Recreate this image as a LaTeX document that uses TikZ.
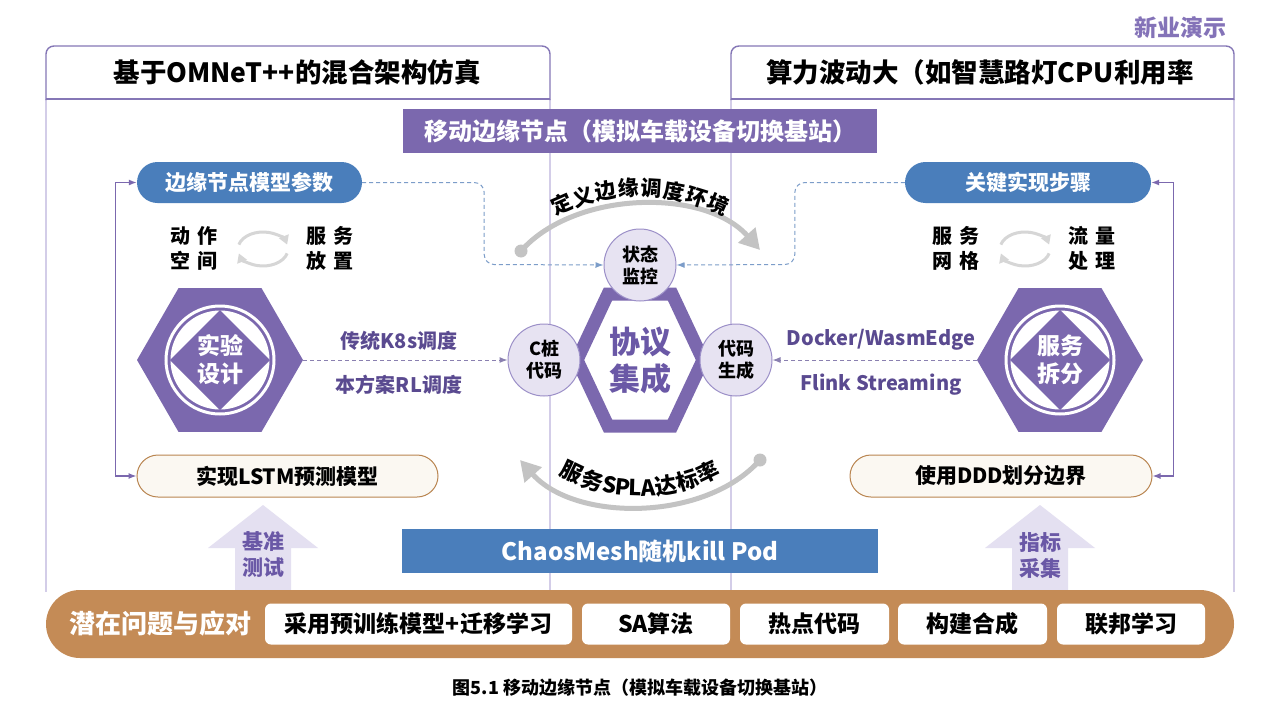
\documentclass[tikz,border=0pt]{standalone}
\usepackage{fontspec}
\setmainfont{Noto Sans CJK SC}
\usetikzlibrary{arrows.meta,calc,shapes.geometric}
\definecolor{mpurple}{HTML}{7B68AE}
\definecolor{dpurple}{HTML}{5A4A90}
\definecolor{tpurple}{HTML}{6A58A6}
\definecolor{brandc}{HTML}{8473B8}
\definecolor{mblue}{HTML}{4A7EBB}
\definecolor{dblue}{HTML}{7C9DC9}
\definecolor{pdashc}{HTML}{8A80B0}
\definecolor{brownc}{HTML}{C48B56}
\definecolor{lav}{HTML}{E4E0F1}
\definecolor{circfill}{HTML}{E7E3F2}
\definecolor{circborder}{HTML}{9C90C8}
\definecolor{panelc}{HTML}{8577B6}
\definecolor{panellight}{HTML}{D3CDE8}
\definecolor{grayarr}{HTML}{C3C3C3}
\definecolor{cycc}{HTML}{D6D6D6}
\definecolor{cream}{HTML}{FBF8F2}
\definecolor{pillborder}{HTML}{B98550}
\newcommand\fsz[2]{\fontsize{#1}{#2}\selectfont}
\tikzset{
  bluepill/.style={fill=mblue, text=white, rounded corners=20.5, minimum height=41, inner sep=0, font=\fsz{21}{24}\bfseries},
  creampill/.style={fill=cream, draw=pillborder, line width=1, rounded corners=21, minimum height=42, inner sep=0, font=\fsz{21}{24}\bfseries},
  circnode/.style={circle, fill=circfill, draw=circborder, line width=1, minimum size=72, inner sep=0, align=center, font=\fsz{18}{22}\bfseries},
  hexnode/.style={regular polygon, regular polygon sides=6, minimum size=166, fill=mpurple, inner sep=0, outer sep=0},
  hextext/.style={text=white, align=center, font=\fsz{23}{28}\bfseries},
  pairtxt/.style={align=center, font=\fsz{20}{25}\bfseries},
  labp/.style={text=dpurple, font=\fsz{20}{24}\bfseries},
  wbox/.style={fill=white, rounded corners=6, minimum height=41, inner sep=0, font=\fsz{23}{26}\bfseries},
  fb/.style={mpurple, line width=1.3, {Latex[length=8,width=6]}-{Latex[length=8,width=6]}},
  bdash/.style={dblue, line width=1, dash pattern=on 4pt off 3pt, rounded corners=10, -{Latex[length=8,width=6]}},
  pdash/.style={pdashc, line width=1, dash pattern=on 4pt off 3pt, -{Latex[length=8,width=6]}},
  garr/.style={grayarr, line width=5, -{Triangle[length=20,width=22]}},
  cyc/.style={cycc, line width=3, -{Triangle[length=9,width=10]}},
  uptxt/.style={text=tpurple, align=center, font=\fsz{21}{26}\bfseries},
  arctxt/.style={inner sep=0, anchor=base, font=\fsz{21}{21}\bfseries},
}
\newcommand\emblem[4]{%
  \node[hexnode] (#1) at (#2,#3) {};
  \draw[white, line width=3] (#1.center) circle[radius=54];
  \fill[white] (#1.center) circle[radius=49.5];
  \fill[mpurple] ($(#1.center)+(0,-50)$) -- ++(50,50) -- ++(-50,50) -- ++(-50,-50) -- cycle;
  \node[hextext] (#1t) at (#1.center) {#4};
}
\begin{document}
\begin{tikzpicture}[x=1pt,y=-1pt]
\useasboundingbox (0,0) rectangle (1280,720);
\fill[white] (0,0) rectangle (1280,720);
% panels
\draw[panellight, line width=1.2] (46,99) -- (46,592) (550,99) -- (550,592) (731,99) -- (731,592) (1234,99) -- (1234,592);
\draw[panelc, line width=1.4, rounded corners=8] (46,100) -- (46,46) -- (550,46) -- (550,100);
\draw[panelc, line width=1.4] (46,99) -- (550,99);
\draw[panelc, line width=1.4, rounded corners=8] (731,100) -- (731,46) -- (1234,46) -- (1234,100);
\draw[panelc, line width=1.4] (731,99) -- (1234,99);
\node[font=\fsz{26.5}{30}\bfseries] (lt) at (297,72) {基于OMNeT++的混合架构仿真};
\node[font=\fsz{26.5}{30}\bfseries] (rt) at (980,72) {算力波动大（如智慧路灯CPU利用率};
\node[text=brandc, font=\fsz{23}{26}\bfseries] (brand) at (1180,28) {新业演示};
% banner
\node[fill=mpurple, text=white, minimum width=474, minimum height=44, inner sep=0, font=\fsz{24}{27}\bfseries] (banner) at (640,131) {移动边缘节点（模拟车载设备切换基站）};
% blue pills
\node[bluepill, minimum width=225] (lp) at (249.5,182.5) {边缘节点模型参数};
\node[bluepill, minimum width=246] (rp) at (1028,182.5) {关键实现步骤};
% cream pills
\node[creampill, minimum width=301] (lbp) at (287.5,476) {实现LSTM预测模型};
\node[creampill, minimum width=302] (rbp) at (1001,476) {使用DDD划分边界};
% feedback lines
\draw[fb] (lp.west) -- ++(-21,0) |- (lbp.west);
\draw[fb] (rp.east) -- ++(22,0) |- (rbp.east);
% pair texts and cycles
\node[pairtxt] (aa) at (194,248) {动\hspace{7pt}作\\空\hspace{7pt}间};
\node[pairtxt] (ab) at (330,248) {服\hspace{7pt}务\\放\hspace{7pt}置};
\node[pairtxt] (ac) at (956,248) {服\hspace{7pt}务\\网\hspace{7pt}格};
\node[pairtxt] (ad) at (1092,248) {流\hspace{7pt}量\\处\hspace{7pt}理};
\coordinate (c1) at (263,249);
\coordinate (c2) at (1025,249);
\foreach \cc in {c1,c2}{
  \draw[cyc] (\cc) ++(-165:25 and 17) arc[start angle=-165, end angle=-15, x radius=25, y radius=17];
  \draw[cyc] (\cc) ++(15:25 and 17) arc[start angle=15, end angle=165, x radius=25, y radius=17];
}
% center hexagon
\draw[mpurple, line width=13, fill=white, line join=miter] (577,360) -- (608,294) -- (672,294) -- (703,360) -- (672,426) -- (608,426) -- cycle;
\node[text=tpurple, align=center, font=\fsz{31}{37}\bfseries] (core) at (640,360) {协议\\集成};
% side emblems
\emblem{lhex}{220}{360}{实验\\设计}
\emblem{rhex}{1060}{360}{服务\\拆分}
% circles
\node[circnode] (state) at (640,265) {状态\\监控};
\node[circnode] (cpile) at (544,360) {C桩\\代码};
\node[circnode] (cgen) at (736,360) {代码\\生成};
% dashed connectors
\draw[bdash] (lp.east) -| ++(122,82) -- (state.west);
\draw[bdash] (rp.west) -| ++(-110,82) -- (state.east);
\draw[pdash] (lhex.east) -- (cpile.west);
\draw[pdash] (rhex.west) -- (cgen.east);
% labels
\node[labp] (k8s) at (399,341) {传统K8s调度};
\node[labp] (rl) at (399,385) {本方案RL调度};
\node[labp] (dock) at (881,340) {Docker/WasmEdge};
\node[labp] (flink) at (881,385) {Flink Streaming};
% gray arcs
\coordinate (ta) at (521,251);
\coordinate (tb) at (760,250);
\fill[grayarr] (ta) circle[radius=6.5];
\draw[garr] (ta) .. controls (575,190) and (705,188) .. (tb);
\foreach \c [count=\i] in {定,义,边,缘,调,度,环,境}{
  \pgfmathsetmacro\ang{-113.8+(\i-1)*6.8}
  \node[arctxt, rotate={-\ang-90}] (tt\i) at ({640+185*cos(\ang)},{381+185*sin(\ang)}) {\c};
}
\coordinate (ba) at (760,460);
\coordinate (bb) at (520,460);
\fill[grayarr] (ba) circle[radius=6.5];
\draw[garr] (ba) .. controls (705,522) and (575,522) .. (bb);
\foreach \c/\q [count=\i] in {服/-25.6,务/-17.4,S/-11.1,P/-6.3,L/-1.7,A/2.9,达/9.4,标/17.4,率/25.6}{
  \node[arctxt, font=\fsz{22}{22}\bfseries, rotate=\q] (bt\i) at ({640+166*cos(90-(\q))},{330+166*sin(90-(\q))}) {\c};
}
% up arrows
\fill[lav] (263,505) -- (318,548) -- (291,548) -- (291,594) -- (235,594) -- (235,548) -- (208,548) -- cycle;
\node[uptxt] (bm) at (263,555) {基准\\测试};
\fill[lav] (1040,505) -- (1095,548) -- (1068,548) -- (1068,594) -- (1012,594) -- (1012,548) -- (985,548) -- cycle;
\node[uptxt] (zb) at (1040,555) {指标\\采集};
% chaos bar
\node[fill=mblue, text=white, minimum width=476, minimum height=44, inner sep=0, font=\fsz{24}{28}\bfseries] (chaos) at (640,551) {ChaosMesh随机kill Pod};
% bottom bar
\node[fill=brownc, rounded corners=34, minimum width=1188, minimum height=68, inner sep=0] (bar) at (640,624) {};
\node[text=white, font=\fsz{26}{30}\bfseries] (bartitle) at (160,624) {潜在问题与应对};
\node[wbox, minimum width=307] (w1) at (418.5,624) {采用预训练模型+迁移学习};
\node[wbox, minimum width=148] (w2) at (656,624) {SA算法};
\node[wbox, minimum width=149] (w3) at (814.5,624) {热点代码};
\node[wbox, minimum width=149] (w4) at (972.5,624) {构建合成};
\node[wbox, minimum width=148] (w5) at (1131,624) {联邦学习};
\node[font=\fsz{18}{21}\bfseries] (cap) at (640,688) {图5.1 移动边缘节点（模拟车载设备切换基站）};
\end{tikzpicture}
\end{document}
